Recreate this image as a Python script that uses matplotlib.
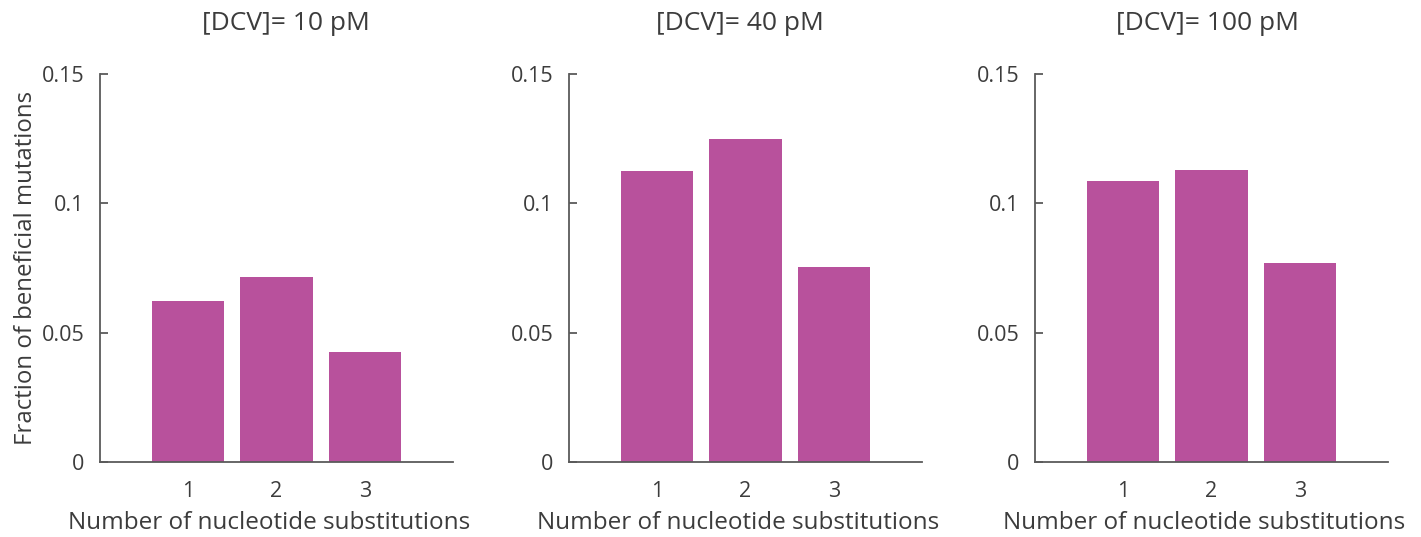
import matplotlib
matplotlib.use('Agg')
import matplotlib.pyplot as plt

plt.rcParams['font.family'] = ['Open Sans', 'DejaVu Sans']

titles = ['[DCV]= 10 pM', '[DCV]= 40 pM', '[DCV]= 100 pM']
substitutions = [1, 2, 3]
frac_10pM = [0.0622, 0.0715, 0.0425]
frac_40pM = [0.1125, 0.1249, 0.0754]
frac_100pM = [0.1086, 0.1129, 0.0769]
yticks = [0, 0.05, 0.1, 0.15]
ytick_labels = ['0', '0.05', '0.1', '0.15']

bar_color = '#b8519c'
text_color = '#3c3c3c'
axis_color = '#5a5a5a'

fig = plt.figure(figsize=(14.21, 5.37), dpi=100)

lefts = [100 / 1421, 569 / 1421, 1035 / 1421]
title_x = [0.528, 0.484, 0.489]
data = [frac_10pM, frac_40pM, frac_100pM]

for i, vals in enumerate(data):
    ax = fig.add_axes([lefts[i], 75 / 537, 353 / 1421, 388 / 537])
    ax.bar(substitutions, vals, width=0.82, color=bar_color)
    ax.set_xlim(0, 4)
    ax.set_ylim(0, 0.15)
    ax.set_xticks(substitutions)
    ax.set_yticks(yticks)
    ax.set_yticklabels(ytick_labels)
    for s in ['top', 'right']:
        ax.spines[s].set_visible(False)
    for s in ['left', 'bottom']:
        ax.spines[s].set_color(axis_color)
        ax.spines[s].set_linewidth(1.3)
    ax.tick_params(direction='in', length=6, width=1.3, color=axis_color,
                   labelcolor=text_color, labelsize=15.5)
    ax.tick_params(axis='y', pad=11)
    ax.tick_params(axis='x', length=0, pad=14)
    ax.set_xlabel('Number of nucleotide substitutions', fontsize=17.5,
                  color=text_color, labelpad=6)
    ax.xaxis.label.set_x(0.48)
    ax.set_title(titles[i], fontsize=19, color=text_color, x=title_x[i], pad=32)
    if i == 0:
        ax.set_ylabel('Fraction of beneficial mutations', fontsize=17.3,
                      color=text_color, labelpad=3)

fig.savefig('out.png', dpi=100)
